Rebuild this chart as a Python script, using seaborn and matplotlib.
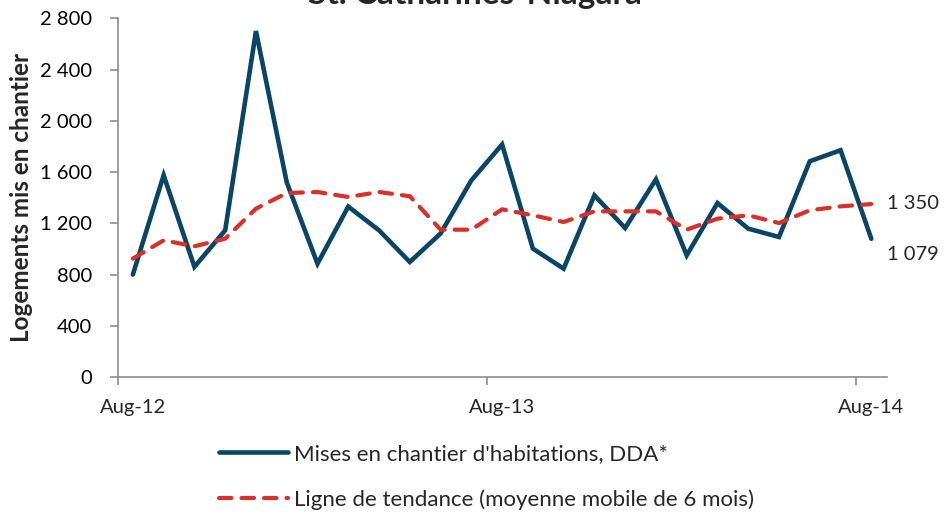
import matplotlib
matplotlib.use("Agg")
import matplotlib.pyplot as plt
import seaborn as sns
import pandas as pd
import numpy as np

# ---- data ----
starts = [800, 1575, 860, 1145, 2700, 1520, 885, 1330, 1145, 898, 1120, 1535, 1815,
          1002, 846, 1418, 1163, 1543, 950, 1358, 1158, 1093, 1684, 1770, 1079]
trend = [924, 1067, 1020, 1080, 1314, 1436, 1444, 1405, 1444, 1411, 1150, 1150, 1309,
         1262, 1210, 1293, 1293, 1293, 1150, 1236, 1262, 1202, 1301, 1332, 1350]
label_months = [0, 12, 24]
tick_labels = ["Aug-12", "Aug-13", "Aug-14"]
series_names = ["Mises en chantier d'habitations, DDA*",
                "Ligne de tendance (moyenne mobile de 6 mois)"]
title = "St. Catharines-Niagara"
ylabel = "Logements mis en chantier"

BLUE = "#0b4566"
RED = "#d9302a"
GRAY = "#8c8c8c"

sns.set_theme(style="white")
plt.rcParams["font.family"] = ["Lato", "DejaVu Sans"]

df = pd.DataFrame({"month": np.arange(len(starts)), "starts": starts, "trend": trend})

fig = plt.figure(figsize=(9.51, 5.17), dpi=100)
ax = fig.add_axes([117.5 / 951, 1 - 377 / 517, (886.7 - 117.5) / 951, (377 - 18.3) / 517])

sns.lineplot(data=df, x="month", y="starts", ax=ax, color=BLUE, linewidth=3.3,
             label=series_names[0], solid_capstyle="round", solid_joinstyle="miter")
sns.lineplot(data=df, x="month", y="trend", ax=ax, color=RED, linewidth=3.0,
             label=series_names[1], dashes=False)
trend_line = ax.lines[-1]
trend_line.set_dashes((3, 2.4))
trend_line.set_dash_capstyle("round")

ax.set_xlim(-0.5, len(starts) - 0.5)
ax.set_ylim(0, 2800)
yt = np.arange(0, 2801, 400)
ax.set_yticks(yt)
ax.set_yticklabels([f"{v:,.0f}".replace(",", " ") for v in yt], fontsize=14.5)

# major ticks at month boundaries (marks only), minor ticks at months (labels only)
ax.set_xticks([m - 0.5 for m in label_months])
ax.set_xticklabels([])
ax.set_xticks(label_months, minor=True)
ax.set_xticklabels(tick_labels, minor=True, fontsize=14.5)
ax.tick_params(axis="x", which="minor", length=0, pad=16)

ax.set_xlabel("")
ax.set_ylabel(ylabel, fontsize=17.5, fontweight="bold")
ax.yaxis.set_label_coords((33 - 117.5) / 769.2, 0.5)

for s in ["top", "right"]:
    ax.spines[s].set_visible(False)
for s in ["left", "bottom"]:
    ax.spines[s].set_color(GRAY)
    ax.spines[s].set_linewidth(1.2)
ax.tick_params(axis="both", which="major", direction="out", length=6, width=1.2,
               color=GRAY, labelcolor="black", left=True, bottom=True)
ax.tick_params(axis="y", pad=12)

# end labels
ax.annotate(f"{trend[-1]:,.0f}".replace(",", " "), xy=(24, trend[-1]), xytext=(11.5, 0.5),
            textcoords="offset points", fontsize=14.5, va="center", ha="left", annotation_clip=False)
ax.annotate(f"{starts[-1]:,.0f}".replace(",", " "), xy=(24, starts[-1]), xytext=(11.5, -11),
            textcoords="offset points", fontsize=14.5, va="center", ha="left", annotation_clip=False)

fig.text(475 / 951, 1 - 4 / 517, title, fontsize=24, fontweight="bold", ha="center", va="baseline")

ax.get_legend().remove()
handles = ax.lines[:2]
leg = fig.legend(handles, series_names, loc="upper left",
                 bbox_to_anchor=(210 / 951, 1 - 435 / 517), frameon=False, fontsize=16,
                 handlelength=3.1, handletextpad=0.3, labelspacing=1.15, borderaxespad=0)

fig.savefig("out.png", dpi=100)
